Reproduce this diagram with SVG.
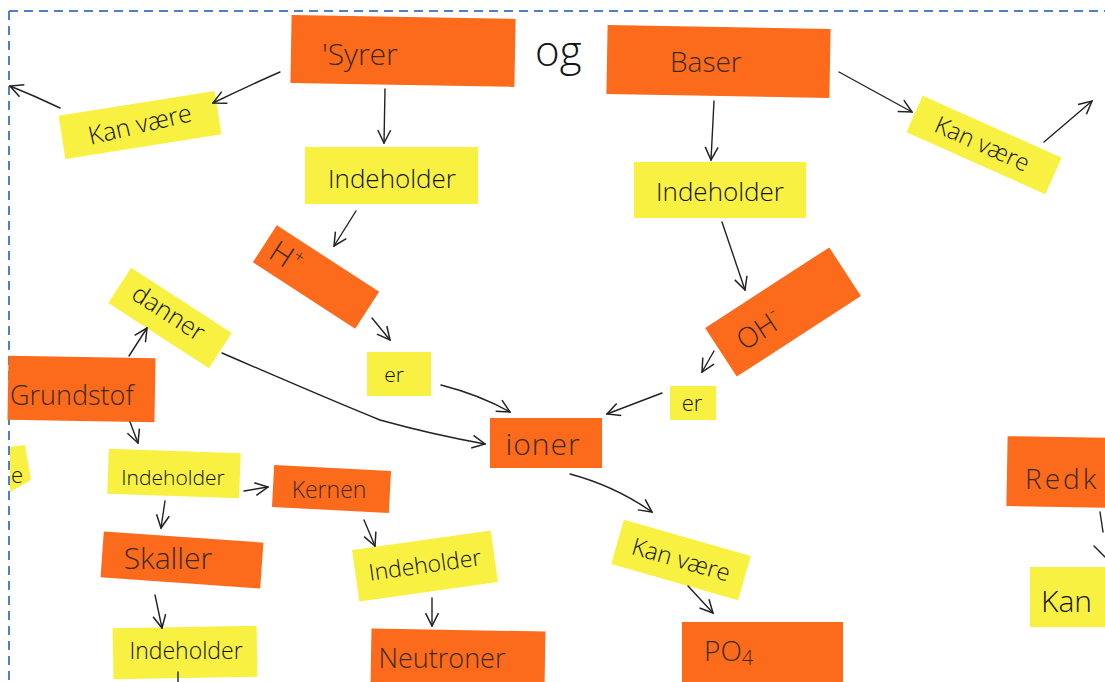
<svg xmlns="http://www.w3.org/2000/svg" width="1105" height="682" viewBox="0 0 1105 682">
<defs>
<marker id="arr" viewBox="0 0 14 14" refX="13" refY="7" markerWidth="15" markerHeight="15" markerUnits="userSpaceOnUse" orient="auto">
<path d="M1,1 L13,7 L1,13" fill="none" stroke="#222" stroke-width="1.4"/>
</marker>
</defs>
<style>
.or{fill:#fc6a1c}
.ye{fill:#f9f142}
.to{font-family:"Open Sans","Liberation Sans",sans-serif;font-weight:300;fill:#3b2a22}
.ty{font-family:"Open Sans","Liberation Sans",sans-serif;font-weight:300;fill:#141414}
.c{fill:none;stroke:#222;stroke-width:1.4;stroke-linecap:round}
.a{marker-end:url(#arr)}
</style>
<rect x="0" y="0" width="1105" height="682" fill="#ffffff"/>
<g id="frame" fill="none" stroke="#4f7fc9" stroke-width="2" stroke-dasharray="9,6">
<line x1="9" y1="11" x2="1105" y2="11"/>
<line x1="9" y1="11" x2="9" y2="682"/>
</g>

<g id="syrer"><rect class="or" x="291" y="17" width="224" height="68" transform="rotate(1 403 51)"/><text class="to" x="322" y="65" font-size="30">'Syrer</text></g>
<g id="og"><text class="ty" x="535" y="66" font-size="42">og</text></g>
<g id="baser"><rect class="or" x="607" y="27" width="223" height="69" transform="rotate(1 718 61)"/><text class="to" x="670" y="72" font-size="28">Baser</text></g>

<g id="kanvaere1" transform="translate(140 125) rotate(-9)"><rect class="ye" x="-79" y="-22" width="158" height="44"/><text class="ty" x="0" y="8" font-size="25" text-anchor="middle" transform="rotate(-4)">Kan være</text></g>
<g id="indeholder1"><rect class="ye" x="305" y="147" width="173" height="57"/><text class="ty" x="392" y="188" font-size="26" text-anchor="middle">Indeholder</text></g>
<g id="hplus" transform="translate(316 277) rotate(33)"><rect class="or" x="-61" y="-22" width="122" height="44"/><text class="to" x="-36" y="10" font-size="30" text-anchor="middle">H<tspan font-size="18" dy="-12">+</tspan></text></g>
<g id="danner" transform="translate(170 318) rotate(33)"><rect class="ye" x="-60" y="-21" width="120" height="42"/><text class="ty" x="-4" y="5" font-size="25" text-anchor="middle">danner</text></g>
<g id="er1"><rect class="ye" x="367" y="352" width="64" height="44"/><text class="ty" x="394" y="382" font-size="21" text-anchor="middle">er</text></g>

<g id="indeholder2"><rect class="ye" x="634" y="162" width="172" height="56"/><text class="ty" x="720" y="201" font-size="26" text-anchor="middle">Indeholder</text></g>
<g id="kanvaere2" transform="translate(984 145) rotate(24)"><rect class="ye" x="-76" y="-20" width="152" height="40"/><text class="ty" x="-2" y="8" font-size="24" text-anchor="middle">Kan være</text></g>
<g id="ohminus" transform="translate(783 312) rotate(-33)"><rect class="or" x="-74" y="-29" width="148" height="58"/><text class="to" x="-30" y="12" font-size="28" text-anchor="middle">OH<tspan font-size="18" dy="-13">-</tspan></text></g>
<g id="er2"><rect class="ye" x="670" y="386" width="46" height="34"/><text class="ty" x="692" y="411" font-size="22" text-anchor="middle">er</text></g>

<g id="ioner"><rect class="or" x="490" y="418" width="112" height="50"/><text class="to" x="543" y="455" font-size="30" text-anchor="middle" letter-spacing="1">ioner</text></g>
<g id="kanvaere3" transform="translate(681 560) rotate(16)"><rect class="ye" x="-66" y="-23" width="132" height="46"/><text class="ty" x="0" y="8" font-size="24" text-anchor="middle">Kan være</text></g>
<g id="po4"><rect class="or" x="682" y="622" width="161" height="62"/><text class="to" x="704" y="661" font-size="28">PO<tspan font-size="20" dy="4">4</tspan></text></g>

<g id="grundstof"><rect class="or" x="8" y="357" width="147" height="64" transform="rotate(1 81 389)"/><text class="to" x="10" y="405" font-size="27">Grundstof</text></g>
<g id="partial-left"><polygon class="ye" points="10,447 25,445 31,480 10,492"/><text class="ty" x="11" y="483" font-size="22">e</text></g>
<g id="indeholder3"><rect class="ye" x="108" y="451" width="132" height="45" transform="rotate(2 174 473)"/><text class="ty" x="173" y="485" font-size="21" text-anchor="middle">Indeholder</text></g>
<g id="kernen"><rect class="or" x="273" y="468" width="117" height="42" transform="rotate(3 331 489)"/><text class="to" x="329" y="498" font-size="23" text-anchor="middle">Kernen</text></g>
<g id="skaller"><rect class="or" x="102" y="537" width="160" height="46" transform="rotate(4 182 560)"/><text class="to" x="168" y="569" font-size="30" text-anchor="middle">Skaller</text></g>
<g id="indeholder4" transform="translate(425 566) rotate(-8)"><rect class="ye" x="-70" y="-26" width="140" height="52"/><text class="ty" x="0" y="7" font-size="23" text-anchor="middle">Indeholder</text></g>
<g id="indeholder5"><rect class="ye" x="113" y="627" width="144" height="51" transform="rotate(-1 185 652)"/><text class="ty" x="186" y="659" font-size="23" text-anchor="middle">Indeholder</text></g>
<g id="neutroner"><rect class="or" x="371" y="630" width="174" height="56" transform="rotate(1 458 658)"/><text class="to" x="442" y="668" font-size="27" text-anchor="middle">Neutroner</text></g>

<g id="redk"><rect class="or" x="1007" y="437" width="100" height="70" transform="rotate(1 1057 472)"/><text class="to" x="1025" y="489" font-size="28" letter-spacing="3">Redk</text></g>
<g id="kan"><rect class="ye" x="1030" y="567" width="78" height="60"/><text class="ty" x="1041" y="612" font-size="30">Kan</text></g>

<g id="connectors">
<path class="c a" d="M280,72 Q248,86 213,103"/>
<path class="c a" d="M60,108 Q35,96 10,86"/>
<path class="c a" d="M385,89 L384,143"/>
<path class="c a" d="M356,211 L334,246"/>
<path class="c a" d="M372,318 L390,340"/>
<path class="c a" d="M441,385 Q480,395 510,412"/>
<path class="c a" d="M222,353 Q335,402 380,420 Q430,434 485,444"/>
<path class="c a" d="M129,356 L147,328"/>
<path class="c a" d="M714,101 L711,160"/>
<path class="c a" d="M722,222 L745,290"/>
<path class="c a" d="M714,351 L702,372"/>
<path class="c a" d="M662,393 L607,414"/>
<path class="c a" d="M839,72 L912,112"/>
<path class="c a" d="M1044,142 L1092,101"/>
<path class="c a" d="M570,474 Q615,486 652,512"/>
<path class="c a" d="M688,586 L713,613"/>
<path class="c a" d="M130,422 L138,443"/>
<path class="c a" d="M244,491 L268,487"/>
<path class="c a" d="M165,501 L161,528"/>
<path class="c a" d="M364,520 L375,546"/>
<path class="c a" d="M155,595 L162,628"/>
<path class="c a" d="M432,598 L432,626"/>
<path class="c" d="M178,672 L178,682"/>
<path class="c" d="M1100,512 L1103,532"/>
<path class="c" d="M1094,546 L1105,557"/>
</g>
</svg>
